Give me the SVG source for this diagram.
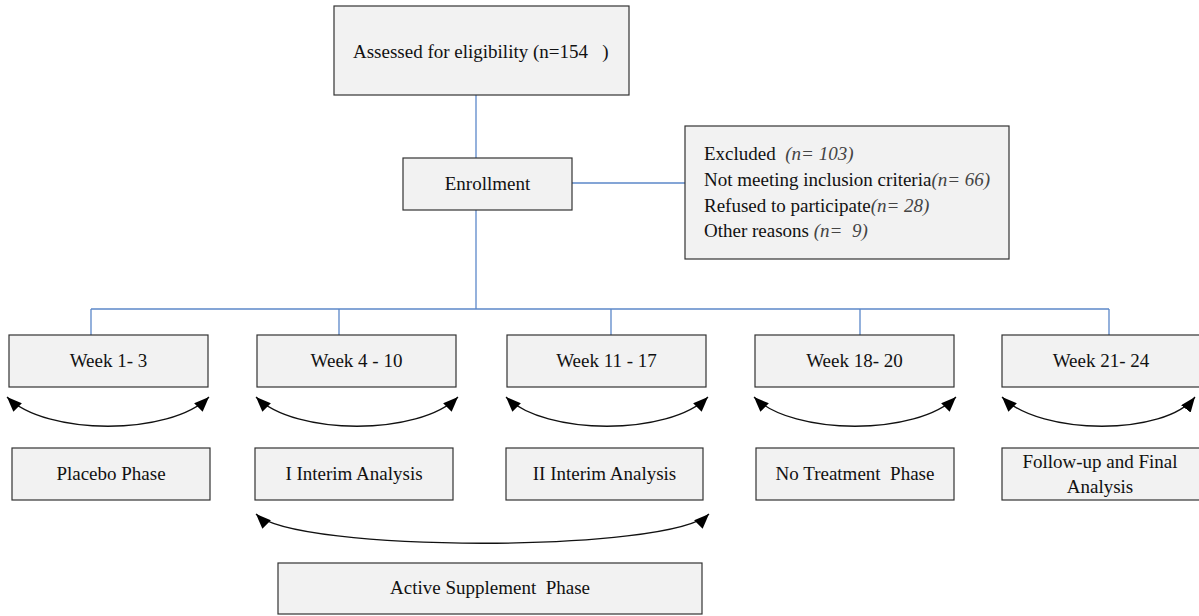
<svg xmlns="http://www.w3.org/2000/svg" width="1199" height="616" viewBox="0 0 1199 616">
<style>
.box{fill:#f2f2f2;stroke:#333;stroke-width:1.2}
.t{font-family:"Liberation Serif","Times New Roman",serif;font-size:19px;fill:#111}
.tc{text-anchor:middle}
.it{font-style:italic;fill:#444}
.conn{fill:none;stroke:#5b87c9;stroke-width:1.3}
.arr{fill:none;stroke:#111;stroke-width:1.3;marker-start:url(#ah);marker-end:url(#ah)}
</style>
<defs>
<marker id="ah" markerUnits="userSpaceOnUse" markerWidth="16" markerHeight="12" refX="15" refY="6" orient="auto-start-reverse">
<path d="M0,0 L15,6 L0,12 z" fill="#000"/>
</marker>
</defs>
<rect width="1199" height="616" fill="#fff"/>
<g id="connectors">
<path class="conn" d="M476,95 V158"/>
<path class="conn" d="M476,210 V309"/>
<path class="conn" d="M572,183 H685"/>
<path class="conn" d="M91,309 H1109"/>
<path class="conn" d="M91,309 V335 M339,309 V335 M611,309 V335 M860,309 V335 M1109,309 V335"/>
<path class="arr" d="M7,397 C46,436 170,436 209,397"/>
<path class="arr" d="M256,397 C295,436 419,436 458,397"/>
<path class="arr" d="M506,397 C545,436 669,436 708,397"/>
<path class="arr" d="M754,397 C793,436 917,436 956,397"/>
<path class="arr" d="M1002,397 C1041,436 1165,436 1195,397"/>
<path class="arr" d="M256,514 C295,553 670,553 709,514"/>
</g>
<g id="assessed">
<rect class="box" x="334" y="6" width="295" height="89"/>
<text class="t" x="353" y="58" xml:space="preserve">Assessed for eligibility (n=154   )</text>
</g>
<g id="enrollment">
<rect class="box" x="403" y="158" width="169" height="52"/>
<text class="t tc" x="487.5" y="190">Enrollment</text>
</g>
<g id="excluded">
<rect class="box" x="685" y="126" width="324" height="133"/>
<text class="t" x="704" y="160" xml:space="preserve">Excluded  <tspan class="it">(n= 103)</tspan></text>
<text class="t" x="704" y="186" xml:space="preserve">Not meeting inclusion criteria<tspan class="it">(n= 66)</tspan></text>
<text class="t" x="704" y="212" xml:space="preserve">Refused to participate<tspan class="it">(n= 28)</tspan></text>
<text class="t" x="704" y="237" xml:space="preserve">Other reasons <tspan class="it">(n=  9)</tspan></text>
</g>
<g id="week1">
<rect class="box" x="9" y="335" width="199" height="52"/>
<text class="t tc" x="108.5" y="367">Week 1- 3</text>
</g>
<g id="week2">
<rect class="box" x="257" y="335" width="199" height="52"/>
<text class="t tc" x="356.5" y="367">Week 4 - 10</text>
</g>
<g id="week3">
<rect class="box" x="507" y="335" width="199" height="52"/>
<text class="t tc" x="606.5" y="367">Week 11 - 17</text>
</g>
<g id="week4">
<rect class="box" x="755" y="335" width="199" height="52"/>
<text class="t tc" x="854.5" y="367">Week 18- 20</text>
</g>
<g id="week5">
<rect class="box" x="1002" y="335" width="199" height="52"/>
<text class="t tc" x="1101" y="367">Week 21- 24</text>
</g>
<g id="placebo">
<rect class="box" x="12" y="448" width="198" height="52"/>
<text class="t tc" x="111" y="480">Placebo Phase</text>
</g>
<g id="interim1">
<rect class="box" x="255" y="448" width="198" height="52"/>
<text class="t tc" x="354" y="480">I Interim Analysis</text>
</g>
<g id="interim2">
<rect class="box" x="506" y="448" width="197" height="52"/>
<text class="t tc" x="604.5" y="480">II Interim Analysis</text>
</g>
<g id="notreatment">
<rect class="box" x="756" y="448" width="198" height="52"/>
<text class="t tc" x="855" y="480" xml:space="preserve">No Treatment  Phase</text>
</g>
<g id="followup">
<rect class="box" x="1002" y="448" width="199" height="52"/>
<text class="t tc" x="1100" y="468">Follow-up and Final</text>
<text class="t tc" x="1100" y="493">Analysis</text>
</g>
<g id="active">
<rect class="box" x="278" y="563" width="424" height="51"/>
<text class="t tc" x="490" y="594" xml:space="preserve">Active Supplement  Phase</text>
</g>
</svg>
